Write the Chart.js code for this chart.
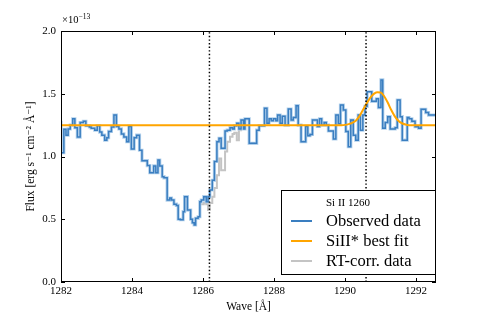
<!DOCTYPE html>
<html>
<head>
<meta charset="utf-8">
<script src="https://cdn.jsdelivr.net/npm/chart.js@4.4.1/dist/chart.umd.min.js"></script>
<style>
  body { margin: 0; background: #ffffff; }
  #wrap { width: 484px; height: 313px; }
</style>
</head>
<body>
<div id="wrap"><canvas id="chartSi" width="484" height="313"></canvas></div>
<script>
// --- 1. DATA ---
// Observed spectrum: bin start wavelengths (last value is the right edge) and flux (x1e-13)
const obsWave = [
    1282.00, 1282.08, 1282.14, 1282.20, 1282.26, 1282.33, 1282.39, 1282.46, 1282.54, 1282.63,
    1282.70, 1282.80, 1282.85, 1282.95, 1283.02, 1283.09, 1283.15, 1283.23, 1283.29, 1283.34,
    1283.42, 1283.49, 1283.56, 1283.63, 1283.70, 1283.77, 1283.85, 1283.91, 1283.98, 1284.06,
    1284.13, 1284.21, 1284.28, 1284.43, 1284.50, 1284.61, 1284.67, 1284.73, 1284.78, 1284.85,
    1284.90, 1284.99, 1285.06, 1285.11, 1285.18, 1285.25, 1285.30, 1285.36, 1285.44, 1285.48,
    1285.56, 1285.65, 1285.70, 1285.75, 1285.79, 1285.86, 1285.91, 1285.95, 1286.02, 1286.09,
    1286.14, 1286.19, 1286.26, 1286.32, 1286.39, 1286.45, 1286.51, 1286.62, 1286.68, 1286.76,
    1286.83, 1286.88, 1286.95, 1287.01, 1287.07, 1287.14, 1287.18, 1287.30, 1287.51, 1287.58,
    1287.73, 1287.80, 1287.86, 1287.92, 1287.98, 1288.05, 1288.10, 1288.17, 1288.23, 1288.31,
    1288.40, 1288.48, 1288.54, 1288.62, 1288.68, 1288.76, 1288.89, 1288.95, 1289.01, 1289.08,
    1289.22, 1289.28, 1289.34, 1289.41, 1289.47, 1289.53, 1289.67, 1289.74, 1289.81, 1289.87,
    1289.95, 1290.02, 1290.09, 1290.16, 1290.23, 1290.30, 1290.37, 1290.43, 1290.50, 1290.56,
    1290.62, 1290.75, 1290.88, 1290.94, 1291.01, 1291.06, 1291.13, 1291.20, 1291.27, 1291.41,
    1291.47, 1291.55, 1291.61, 1291.75, 1291.80, 1291.88, 1291.97, 1292.07, 1292.14, 1292.27,
    1292.35, 1292.44, 1292.56
];
const obsFlux = [
    1.285, 1.03, 1.217, 1.17, 1.22, 1.25, 1.30, 1.23, 1.155, 1.27,
    1.28, 1.245, 1.235, 1.225, 1.21, 1.245, 1.195, 1.17, 1.13, 1.15,
    1.20, 1.235, 1.33, 1.24, 1.22, 1.18, 1.155, 1.118, 1.24, 1.06,
    1.15, 1.17, 1.05, 0.967, 0.928, 0.871, 0.925, 0.871, 0.972, 0.925,
    0.839, 0.83, 0.653, 0.669, 0.653, 0.62, 0.61, 0.50, 0.497, 0.56,
    0.68, 0.573, 0.50, 0.473, 0.454, 0.507, 0.52, 0.64, 0.653, 0.68,
    0.64, 0.68, 0.733, 0.81, 0.96, 1.118, 1.145, 1.065, 1.203, 1.21,
    1.23, 1.22, 1.245, 1.265, 1.22, 1.29, 1.22, 1.30, 1.105, 1.21,
    1.245, 1.384, 1.265, 1.30, 1.285, 1.30, 1.285, 1.33, 1.265, 1.32,
    1.25, 1.378, 1.29, 1.31, 1.405, 1.25, 1.118, 1.24, 1.166, 1.176,
    1.29, 1.24, 1.30, 1.25, 1.27, 1.25, 1.203, 1.14, 1.33, 1.26,
    1.41, 1.37, 1.20, 1.078, 1.29, 1.17, 1.13, 1.33, 1.21, 1.33,
    1.40, 1.516, 1.44, 1.46, 1.39, 1.61, 1.225, 1.27, 1.317, 1.22,
    1.23, 1.45, 1.317, 1.13, 1.31, 1.30, 1.28, 1.237, 1.225, 1.376,
    1.35, 1.33, 1.33
];

// RT-corrected data (only where it differs from the observed one)
const rtWave = [
    1285.95, 1286.02, 1286.09, 1286.14, 1286.19, 1286.26, 1286.32, 1286.39, 1286.45, 1286.51,
    1286.62, 1286.68, 1286.76, 1286.83, 1286.88, 1286.95, 1287.01, 1287.07, 1287.14, 1287.18
];
const rtFlux = [
    0.627, 0.62, 0.63, 0.62, 0.573, 0.63, 0.68, 0.75, 0.85, 0.985,
    0.89, 1.04, 1.118, 1.158, 1.18, 1.19, 1.13, 1.21, 1.24, 1.24
];

// SiII* best fit, sampled off the curve
const fitWave = [1282.0, 1289.9, 1290.0, 1290.1, 1290.2, 1290.3, 1290.4, 1290.5, 1290.6, 1290.7, 1290.8,
                 1290.9, 1291.0, 1291.1, 1291.2, 1291.3, 1291.4, 1291.5, 1291.6, 1291.7, 1291.8, 1292.56];
const fitFlux = [1.25, 1.25, 1.252, 1.258, 1.268, 1.285, 1.32, 1.37, 1.42, 1.465, 1.497,
                 1.512, 1.51, 1.48, 1.43, 1.37, 1.32, 1.285, 1.265, 1.255, 1.25, 1.25];

// dotted markers
const markerWave = [1286.18, 1290.59];

// axes
const xTicks = [1282, 1284, 1286, 1288, 1290, 1292];
const yTicks = [0.0, 0.5, 1.0, 1.5, 2.0];
const xRange = [1282, 1292.56];
const yRange = [0, 2.0];

const legendTitle = 'Si II 1260';
const legendLabels = ['Observed data', 'SiII* best fit', 'RT-corr. data'];

// --- 2. STYLE ---
const SERIF = '"Liberation Serif", "DejaVu Serif", serif';
const BLUE = '#3a7ec0';
const BLUE_HALO = '#b3d1ec';
const ORANGE = '#ffa500';
const GRAY = '#c4c4c4';

function toPoints(xs, ys) {
    return xs.map((x, i) => ({ x: x, y: ys[i] }));
}

// --- 3. PLUGIN: inward ticks, frame, exponent, legend ---
const framePlugin = {
    id: 'frame',
    afterDraw(chart) {
        const ctx = chart.ctx;
        const a = chart.chartArea;
        const xs = chart.scales.x;
        const ys = chart.scales.y;
        ctx.save();
        ctx.strokeStyle = '#000';
        ctx.lineWidth = 1;
        ctx.beginPath();
        xTicks.forEach(v => {
            const px = Math.round(xs.getPixelForValue(v)) + 0.5;
            ctx.moveTo(px, a.bottom); ctx.lineTo(px, a.bottom - 4);
            ctx.moveTo(px, a.top); ctx.lineTo(px, a.top + 4);
        });
        yTicks.forEach(v => {
            const py = Math.round(ys.getPixelForValue(v)) + 0.5;
            ctx.moveTo(a.left, py); ctx.lineTo(a.left + 4, py);
            ctx.moveTo(a.right, py); ctx.lineTo(a.right - 4, py);
        });
        ctx.stroke();
        ctx.strokeRect(a.left + 0.5, a.top + 0.5, a.right - a.left - 1, a.bottom - a.top - 1);

        // exponent label
        ctx.fillStyle = '#000';
        ctx.textBaseline = 'alphabetic';
        ctx.textAlign = 'left';
        ctx.font = '10.5px ' + SERIF;
        ctx.fillText('\u00d710', a.left + 1, 23);
        const w = ctx.measureText('\u00d710').width;
        ctx.font = '7.5px ' + SERIF;
        ctx.fillText('\u221213', a.left + 1 + w, 19);

        // legend box
        const bx = 281.5, by = 190.5, bw = 154, bh = 84;
        ctx.fillStyle = '#fff';
        ctx.fillRect(bx, by, bw, bh);
        ctx.strokeStyle = '#000';
        ctx.lineWidth = 1;
        ctx.strokeRect(bx, by, bw, bh);
        ctx.fillStyle = '#000';
        ctx.textAlign = 'center';
        ctx.textBaseline = 'middle';
        ctx.font = '11px ' + SERIF;
        ctx.fillText(legendTitle, 348, 203);

        const colors = [BLUE, ORANGE, GRAY];
        const rows = [221, 241, 261];
        ctx.textAlign = 'left';
        ctx.font = '16.5px ' + SERIF;
        legendLabels.forEach((label, i) => {
            ctx.strokeStyle = colors[i];
            ctx.lineWidth = 2;
            ctx.beginPath();
            ctx.moveTo(291, rows[i]);
            ctx.lineTo(312, rows[i]);
            ctx.stroke();
            ctx.fillStyle = '#000';
            ctx.fillText(label, 326, rows[i] + 1);
        });
        ctx.restore();
    }
};

// --- 4. CHART ---
const markerSets = markerWave.map(w => ({
    data: toPoints([w, w], [yRange[0], yRange[1]]),
    borderColor: '#000',
    borderWidth: 1.5,
    borderDash: [1.4, 2.2],
    pointRadius: 0,
    order: 0
}));

new Chart(document.getElementById('chartSi').getContext('2d'), {
    type: 'line',
    data: {
        datasets: [
            ...markerSets,
            {
                label: legendLabels[1],
                data: toPoints(fitWave, fitFlux),
                borderColor: ORANGE,
                borderWidth: 2,
                pointRadius: 0,
                cubicInterpolationMode: 'monotone',
                order: 1
            },
            {
                label: legendLabels[0],
                data: toPoints(obsWave, obsFlux),
                borderColor: BLUE,
                borderWidth: 1.5,
                stepped: 'after',
                pointRadius: 0,
                order: 2
            },
            {
                data: toPoints(obsWave, obsFlux),
                borderColor: BLUE_HALO,
                borderWidth: 3.2,
                stepped: 'after',
                pointRadius: 0,
                order: 3
            },
            {
                label: legendLabels[2],
                data: toPoints(rtWave, rtFlux),
                borderColor: GRAY,
                borderWidth: 2,
                stepped: 'after',
                pointRadius: 0,
                order: 4
            }
        ]
    },
    options: {
        responsive: false,
        animation: false,
        events: [],
        layout: { padding: { top: 31, right: 48, left: 0, bottom: 0 } },
        plugins: {
            legend: { display: false },
            tooltip: { enabled: false }
        },
        scales: {
            x: {
                type: 'linear',
                min: xRange[0],
                max: xRange[1],
                grid: { display: false, drawTicks: false },
                border: { display: false },
                afterBuildTicks: s => { s.ticks = xTicks.map(v => ({ value: v })); },
                afterFit: s => { s.height = 31; },
                ticks: {
                    color: '#000',
                    padding: 3,
                    maxRotation: 0,
                    font: { family: SERIF, size: 11 },
                    callback: v => String(v)
                },
                title: {
                    display: true,
                    text: 'Wave [\u00c5]',
                    color: '#000',
                    padding: { top: 0, bottom: -1 },
                    font: { family: SERIF, size: 11.5 }
                }
            },
            y: {
                type: 'linear',
                min: yRange[0],
                max: yRange[1],
                grid: { display: false, drawTicks: false },
                border: { display: false },
                afterBuildTicks: s => { s.ticks = yTicks.map(v => ({ value: v })); },
                afterFit: s => { s.width = 61; },
                ticks: {
                    color: '#000',
                    padding: 5,
                    font: { family: SERIF, size: 11 },
                    callback: v => v.toFixed(1)
                },
                title: {
                    display: true,
                    text: 'Flux [erg s\u207b\u00b9 cm\u207b\u00b2 \u00c5\u207b\u00b9]',
                    color: '#000',
                    padding: { top: 24, bottom: 0 },
                    font: { family: SERIF, size: 11.5 }
                }
            }
        }
    },
    plugins: [framePlugin]
});
</script>
</body>
</html>
